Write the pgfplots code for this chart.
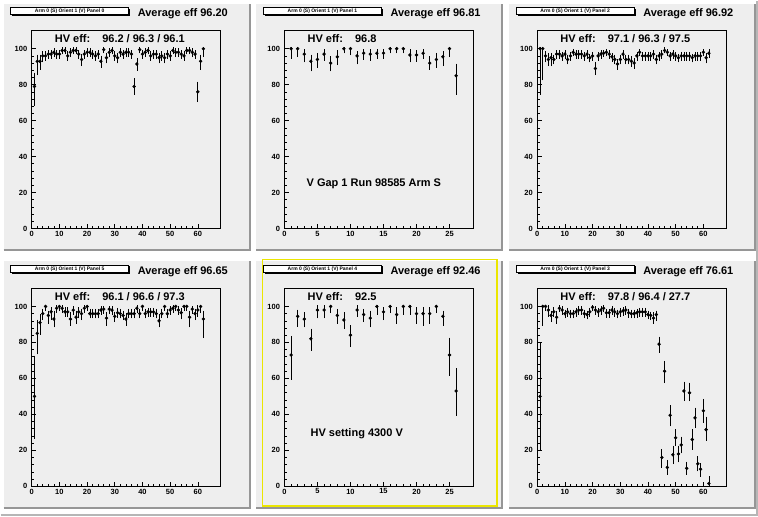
\documentclass[border=0pt]{standalone}
\usepackage{fontspec}
\setmainfont{Liberation Sans}
\usepackage{pgfplots}
\pgfplotsset{compat=1.18}
\usepackage{pgfplotstable}
\definecolor{padbg}{RGB}{238,238,238}
\definecolor{bevel}{RGB}{150,150,150}
\definecolor{hiyel}{RGB}{235,230,0}

% Panel 0 (top left)
\pgfplotstableread{
x y ep em
1 79 7 10
2 93 3 7
3 93 3 4
4 96 2 3
5 96 2 2
6 97 1.5 2
7 97 1.5 2
8 98 1.5 2
9 97 1.5 2
10 97 1.5 2
11 99 1 1.5
12 99 1 1.5
13 96 2 2
14 98 1.5 2
15 99 1 1.5
16 99 1 1.5
17 97 1.5 2
18 94 2.5 3
19 97 1.5 2
20 98 1.5 2
21 98 1.5 2
22 97 1.5 2
23 96 2 2
24 97 1.5 2
25 93 2.5 3
26 99.5 0.5 1.5
27 95 2 2.5
28 98 1.5 2
29 99 1 1.5
30 96 2 2
31 95 2 2.5
32 98 1.5 2
33 97 1.5 2
34 98 1.5 2
35 98 1.5 2
36 97 1.5 2
37 79 4 4
38 91.5 2.5 3
39 99.5 0.5 1.5
40 97 1.5 2
41 98 1.5 2
42 99 1 1.5
43 96 2 2
44 97 1.5 2
45 97 1.5 2
46 95 2 2.5
47 96 2 2
48 95 2 2.5
49 97 1.5 2
50 96 2 2
51 99 1 1.5
52 98 1.5 2
53 98 1.5 2
54 97 1.5 2
55 96 2 2
56 99 1 1.5
57 99 1 1.5
58 98 1.5 2
59 97 1.5 2
60 76 5 5
61 93 3 4
62 100 0 4
}\tabA

% Panel 1 (top middle)
\pgfplotstableread{
x y ep em
1 100 0 5
2 100 0 4
3 97 2 4
4 93 3 5
5 94 3 4
6 97 2 3
7 92 3 4
8 95.5 3 4
9 100 0 2
10 100 0 3
11 96 2 4
12 97.5 1.5 3
13 97 2 3
14 97.5 1.5 2.5
15 97.5 1.5 2.5
16 100 0 2
17 100 0 2
18 100 0 2
19 96.5 2.5 3.5
20 96.5 2 3
21 97.5 1.5 2.5
22 92 3 3
23 94 3 4
24 95.5 2.5 4.5
25 100 0 4
26 85 6 10
}\tabB

% Panel 2 (top right)
\pgfplotstableread{
x y ep em
1 100 0 25
2 100 0 17
3 96 2 3
4 94 3 3
5 95 2 4
6 94 2 2
7 97 1.5 2
8 97 1.5 2
9 96 1.5 2
10 97 1.5 2
11 94 2 2
12 96 1.5 2
13 98 1 1.5
14 97 1.5 2
15 97 1.5 2
16 97 1.5 2
17 96 1.5 2
18 97 1.5 2
19 95 1.5 2
20 96 1.5 2
21 89 3 3
22 96 1.5 2
23 97 1.5 2
24 97.5 1 1.5
25 98 1 1.5
26 97 1.5 2
27 95.5 1.5 2
28 94 2 2
29 91.5 2 2.5
30 94 2 2
31 97 1.5 2
32 94 2 2
33 94 2 2
34 93 2 2.5
35 92 2 2.5
36 96 1.5 2
37 98 1 1.5
38 96 1.5 2
39 96 1.5 2
40 96 1.5 2
41 96 1.5 2
42 97 1.5 2
43 94 2 2
44 96 1.5 2
45 97 1.5 2
46 99 1 1
47 98 1 1.5
48 96 1.5 2
49 97 1.5 2
50 96 1.5 2
51 95 1.5 2
52 96 1.5 2
53 96 1.5 2
54 96 1.5 2
55 96 1.5 2
56 95 1.5 2
57 96 1.5 2
58 96 1.5 2
59 96 1.5 2
60 98 1 1.5
61 95 2 2.5
62 97.5 1.5 2
}\tabC

% Panel 5 (bottom left)
\pgfplotstableread{
x y ep em
1 50 22 23
2 85 7 11
3 91 4 6
4 96 2 3
5 100 0 2
6 95 2 4
7 97 2 4
8 93 4 4
9 99 1 2
10 100 0 2
11 99 1 2
12 97 2 2
13 97 2 2
14 93 3 3
15 98 1.5 2
16 94 3 3
17 97 2 3
18 96 2 3
19 99 1 2
20 100 0 2
21 96 2 2
22 96 2 2
23 96 2 2
24 96 2 2
25 98 1.5 2
26 98.5 1 2
27 93.5 2.5 3.5
28 98.5 1 2
29 98 1.5 2
30 94.5 2 2.5
31 96.5 2 2
32 96 2 2
33 95 2 2
34 93 2.5 3
35 96 2 2
36 96 2 2
37 96 2 2
38 99 1 2
39 96 2 2
40 100 0 2
41 96 2 2
42 97 1.5 2
43 97 1.5 2
44 97 1.5 2
45 96 2 2
46 92 3 3
47 96 2 2
48 100 0 2
49 96 2 2
50 98 1.5 2
51 99 1 2
52 100 0 2
53 98 1.5 2
54 96.5 2 3
55 100 0 2
56 100 0 2
57 94 3 5
58 98.5 1 2
59 96 2 3
60 98 2 3
61 100 0 3
62 93 4 10
}\tabD

% Panel 4 (bottom middle)
\pgfplotstableread{
x y ep em
1 73 10 13
2 94.5 3 5
3 93 3 4
4 82 5 6
5 98 2 4
6 98 2 4
7 100 0 3
8 95 3 4
9 92.5 3.5 4.5
10 84 5 6
11 98 2 3
12 95.5 2.5 3.5
13 93.5 3.5 4.5
14 100 0 4
15 97 2 4
16 100 0 3
17 95.5 3.5 4.5
18 100 0 4
19 100 0 4
20 96 3 5
21 96 3 6
22 96 3 5
23 100 0 3
24 94.5 2.5 4.5
25 73 9 11
26 53 12 13
}\tabE

% Panel 3 (bottom right)
\pgfplotstableread{
x y ep em
1 50 29 29
2 100 0 10
3 100 0 2
4 98 2 3
5 95 2 3
6 97 2 2
7 94 3 3
8 99 1 1.5
9 98 1.5 2
10 96 1.5 2
11 97 1.5 2
12 96 1.5 2
13 96 1.5 2
14 97 1.5 2
15 98 1.5 2
16 98 1.5 2
17 96 1.5 2
18 95.5 1.5 2
19 97 1.5 2
20 99.5 0.5 1.5
21 98 1.5 2
22 97 1.5 2
23 98 1.5 2
24 99 1 1.5
25 96.5 1.5 2
26 96.5 1.5 2
27 98 1.5 2
28 97 1.5 2
29 96 1.5 2
30 97 1.5 2
31 97.5 1.5 2
32 98 1.5 2
33 96.5 1.5 2
34 96 1.5 2
35 96 1.5 2
36 96.5 1.5 2
37 97 1.5 2
38 97 1.5 2
39 97 1.5 2
40 95.5 1.5 2
41 95 1.5 2
42 93.5 2.5 2.5
43 95.5 1.5 3
44 79 3.5 4
45 16 4 5
46 64 5 6
47 10.5 3.5 3.5
48 39.5 5 5.5
49 17.5 4.5 4.5
50 27 4 4
51 18 4 4
52 23 4 4
53 53 4.5 5
54 10 3 3
55 52 5 4
56 26 5 5
57 38 5 5
58 12.5 3.5 3.5
59 9.5 2.5 3.5
60 42 6 6
61 31.5 6.5 5.5
62 1.5 3.5 1.5
}\tabF

\pgfplotsset{
  rootpanel/.style={
    scale only axis, width=189pt, height=198pt, anchor=south west,
    ymin=0, ymax=110, xmin=0,
    axis line style={line width=0.8pt, black},
    tick align=inside, tick pos=left,
    ytick={0,20,40,60,80,100}, minor y tick num=4, minor x tick num=4,
    major tick length=4.5pt, minor tick length=2.5pt,
    every tick/.style={line width=0.6pt, black},
    tick label style={font=\fontsize{7.5}{8}\selectfont\bfseries},
    /pgf/number format/assume math mode=true,
    yticklabel style={xshift=-1pt},
    xticklabel style={yshift=1pt},
  },
  wide/.style={rootpanel, xmax=68.2, xtick={0,10,20,30,40,50,60}},
  narrow/.style={rootpanel, xmax=28.6, xtick={0,5,10,15,20,25}},
  pts/.style={only marks, mark=*, mark size=1.5pt, black,
    error bars/.cd, y dir=both, y explicit, error mark=-,
    error bar style={line width=0.7pt, black},
    error mark options={mark size=1.2pt, line width=0.7pt, black}},
}

\newcommand\pad[2]{% #1 = x offset, #2 = tikz y of bottom
  \fill[padbg] (#1+3,#2) rectangle (#1+250,#2+248);
  \draw[bevel, line width=2pt] (#1+3,#2+1) -- (#1+249,#2+1) -- (#1+249,#2+248);
}
\newcommand\titlebox[3]{% x offset, y bottom, text
  \fill[black] (#1+11.5,#2-1.5) rectangle (#1+129.5,#2+6);
  \draw[fill=white, line width=0.6pt] (#1+10,#2) rectangle (#1+128,#2+7);
  \node[font=\fontsize{5}{5}\selectfont\bfseries, inner sep=0pt] at (#1+69,#2+3.5) {#3};
}

\begin{document}
\begin{tikzpicture}[x=1pt, y=1pt]
\fill[white] (0,0) rectangle (758,516);
\pad{0}{265}\pad{253}{265}\pad{506}{265}
\pad{0}{7}\pad{253}{7}\pad{506}{7}
\draw[bevel!70, line width=1.5pt] (0,1) -- (757,1) -- (757,516);
\draw[hiyel, line width=1.6pt] (262,10) rectangle (497,257);

\begin{axis}[wide, at={(31pt,288pt)}]
\addplot[pts] table[x=x, y=y, y error plus=ep, y error minus=em] {\tabA};
\end{axis}
\begin{axis}[narrow, at={(284pt,288pt)}]
\addplot[pts] table[x=x, y=y, y error plus=ep, y error minus=em] {\tabB};
\end{axis}
\begin{axis}[wide, at={(537pt,288pt)}]
\addplot[pts] table[x=x, y=y, y error plus=ep, y error minus=em] {\tabC};
\end{axis}
\begin{axis}[wide, at={(31pt,30pt)}]
\addplot[pts] table[x=x, y=y, y error plus=ep, y error minus=em] {\tabD};
\end{axis}
\begin{axis}[narrow, at={(284pt,30pt)}]
\addplot[pts] table[x=x, y=y, y error plus=ep, y error minus=em] {\tabE};
\end{axis}
\begin{axis}[wide, at={(537pt,30pt)}]
\addplot[pts] table[x=x, y=y, y error plus=ep, y error minus=em] {\tabF};
\end{axis}

\titlebox{0}{502}{Arm 0 (S) Orient 1 (V) Panel 0}
\titlebox{253}{502}{Arm 0 (S) Orient 1 (V) Panel 1}
\titlebox{506}{502}{Arm 0 (S) Orient 1 (V) Panel 2}
\titlebox{0}{244}{Arm 0 (S) Orient 1 (V) Panel 5}
\titlebox{253}{244}{Arm 0 (S) Orient 1 (V) Panel 4}
\titlebox{506}{244}{Arm 0 (S) Orient 1 (V) Panel 3}

\begin{scope}[every node/.style={font=\fontsize{11}{12}\selectfont\bfseries, inner sep=0pt, anchor=base west}]
\node at (137,500) {Average eff 96.20};
\node at (390,500) {Average eff 96.81};
\node at (643,500) {Average eff 96.92};
\node at (137,242) {Average eff 96.65};
\node at (390,242) {Average eff 92.46};
\node at (643,242) {Average eff 76.61};
\node at (54,474) {HV eff:\hspace{12pt}96.2 / 96.3 / 96.1};
\node at (307,474) {HV eff:\hspace{12pt}96.8};
\node at (560,474) {HV eff:\hspace{12pt}97.1 / 96.3 / 97.5};
\node at (54,216) {HV eff:\hspace{12pt}96.1 / 96.6 / 97.3};
\node at (307,216) {HV eff:\hspace{12pt}92.5};
\node at (560,216) {HV eff:\hspace{12pt}97.8 / 96.4 / 27.7};
\node at (306,330) {V Gap 1 Run 98585 Arm S};
\node at (310,80) {HV setting 4300 V};
\end{scope}
\end{tikzpicture}
\end{document}
